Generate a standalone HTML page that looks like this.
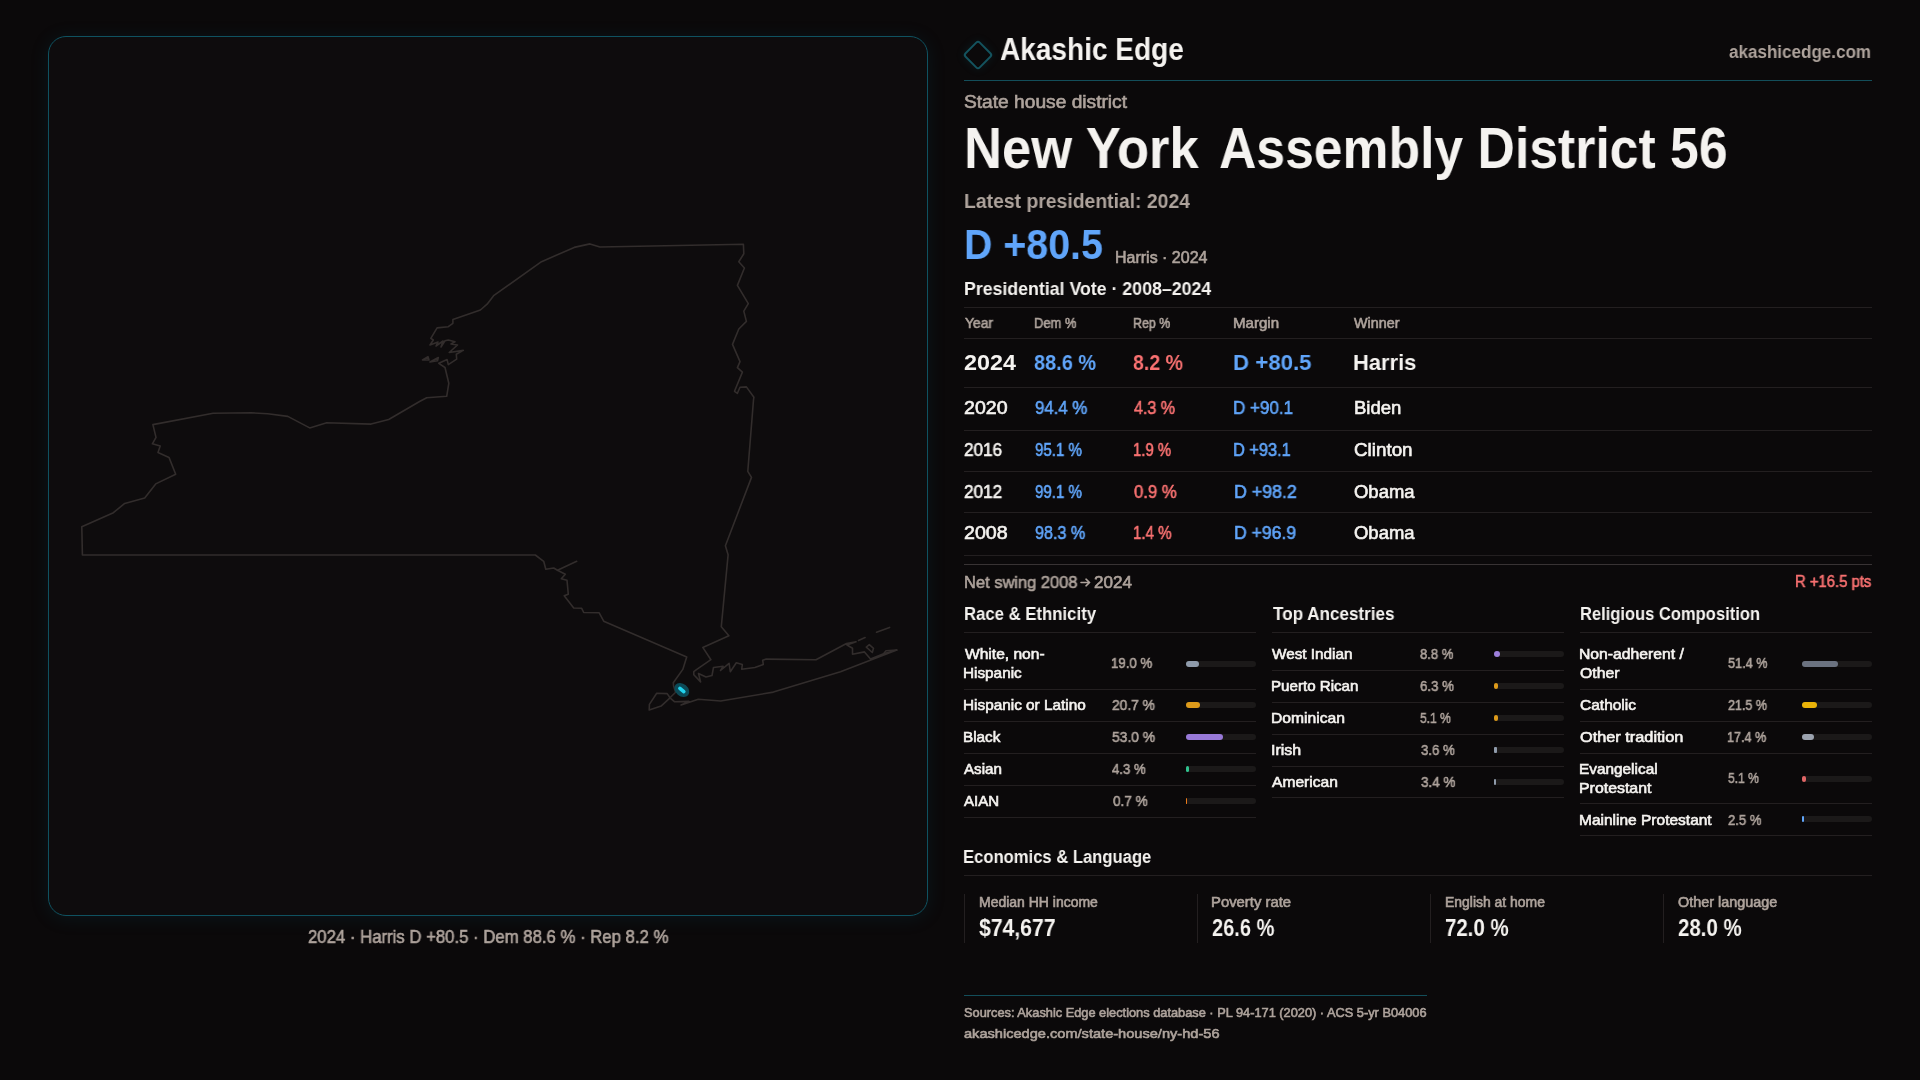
<!DOCTYPE html>
<html><head><meta charset="utf-8"><style>
html,body{margin:0;padding:0;}
body{width:1920px;height:1080px;background:#0b090a;position:relative;overflow:hidden;font-family:"Liberation Sans",sans-serif;}
.t{position:absolute;white-space:nowrap;line-height:0;transform-origin:0 0;will-change:transform;}
.r{position:absolute;}
.panel{position:absolute;left:48px;top:36px;width:878px;height:878px;border:1px solid #0f5260;border-radius:18px;background:#0e0c0d;box-shadow:0 2px 18px 1px rgba(16,100,120,0.13);}
.logo{position:absolute;left:967px;top:44px;width:18px;height:18px;border:2px solid #14535e;border-radius:3.5px;transform:rotate(45deg);box-shadow:0 0 10px rgba(20,120,140,0.15);}
svg{position:absolute;left:0;top:0;}
</style></head><body>
<div class="panel"></div>
<svg width="1920" height="1080" viewBox="0 0 1920 1080">
<g fill="none" stroke="#322d2c" stroke-width="1.6" stroke-linejoin="round" stroke-linecap="round">
<path d="M82.4,555 L81.8,526.7 L113.4,512.7 L124.7,503.4 L144.7,497.9 L155.7,483.9 L175.7,474.2 L169,457.4 L158,452.5 L160.2,446.1 L152.4,443.8 L156,437.4 L152.9,424.6 L213.1,413.2 L251.4,412.8 L267.8,413.7 L287.8,416.4 L309.7,427.9 L326.7,422.8 L371.1,424.1 L388.7,419.5 L420,401.3 L426.7,397.8 L446.7,396.3 L448.8,383.3 L445,367.5 L438.8,363.3 L447.1,359.6 L448.3,364.6 L456.7,359.2 L456.3,354.2 L463.3,350.4 L449.2,352.5 L457.5,345 L451,344 L455,341.7 L448.3,340 L445,340.8 L441,347 L443,341 L436,346 L438,342 L430,345 L433.3,340 L430.8,338.3 L437.1,327.9 L448.3,326.7 L452.9,323.3 L452.9,319.6 L480.4,310 L487.1,304.2 L494,295.3 L541.5,261.7 L574.2,247.4 L590,243.9 L599.9,247 L743.4,244.3 L743.8,253.8 L738.8,261.7 L744.4,268 L737.4,285.4 L748.3,303.6 L743.8,311.1 L746.4,321.4 L738.8,329 L732.5,344.4 L740,361.6 L737.4,367.6 L742.4,372.1 L734.5,391.3 L737.4,393.3 L740,387.3 L746.4,386.9 L753.9,397.2 L753.5,400 L747.8,471.3 L751.5,477.4 L725.4,545.7 L728.1,554.8 L721.3,626.7 L728.9,635.8 L702.8,647.4 L710.9,659.7 L696.8,669.3 L693.8,671.7 L693.8,674.7 L700.6,681.9 L698.5,673.5 L706,677 L712,675.5 L713.5,667.5 L723.1,666.3 L720.5,670.5 L729.1,663.3 L730.3,671.7 L736.3,662.7 L742.3,664.5 L741.7,669.3 L754.9,667.5 L763.3,664.5 L762.7,660.3 L766.2,659.1 L816,659.7 L846.5,643.5 L856.1,641.7 L847,645 L852.5,648.3 L852.5,654.3 L864.5,651.9 L870.5,659.1 L883.6,653.7 L896.8,650.1 L840.5,671.7 L773.4,692.1 L720.7,701 L698.3,699.2 L681.1,705 L688.9,701.4 L674.4,701.7 L670,697.8 L675.6,692.2 L673.6,686.1 L673.3,682.8 L682.8,669.4 L686.7,657 L603.7,621.2 L599.2,612.8 L583.7,612.5 L581.7,608.3 L573.7,608 L564.2,595.8 L568.3,594.2 L567,580.3 L561.3,578.7 L565.3,574.2 L557.5,570.3 L553.7,568 L545.8,569.2 L543.7,561.3 L535.3,555 Z"/>
<path d="M557.5,570.3 L576.7,561.3"/>
<path d="M883.6,653.7 L886,650.7 L896.8,650.1"/>
<path d="M656.7,693.3 L667.2,693.6 L670,697.8 L661.1,706.1 L649.2,710 L649.4,704.4 Z"/>
<path d="M866.3,647.1 L869.3,644.7 L873.5,648.3 L872.3,652.5 Z"/>
<path d="M876.5,632.2 L889.6,627.4"/>
<path d="M858.5,640.5 L865.1,637.6"/>
<path d="M422.5,360 L428,356.7 L429,360 Z"/>
<path d="M430,362 L438.3,357.5 L437.5,360.8 Z"/>
</g>
<ellipse cx="681.8" cy="690" rx="8.2" ry="6.2" transform="rotate(40 681.8 690)" fill="#0c4a57"/>
<line x1="679.9" y1="688.4" x2="683.8" y2="691.7" stroke="#22d3ee" stroke-width="3.6" stroke-linecap="round"/>
</svg>

<div class="logo"></div>
<div class="t" style="left:1000.47px;top:49.67px;font-size:30.96px;font-weight:bold;color:#f5f3f0;transform:scaleX(0.90592);">Akashic Edge</div>
<div class="t" style="left:1729.07px;top:51.53px;font-size:17.50px;font-weight:bold;color:#aea39c;transform:scaleX(0.97349);">akashicedge.com</div>
<div class="r" style="left:964px;top:80px;width:908px;height:1px;background:#134e5a;"></div>
<div class="t" style="left:963.55px;top:101.65px;font-size:17.44px;font-weight:normal;color:#aea39c;-webkit-text-stroke:0.6px #aea39c;transform:scaleX(1.09919);">State house district</div>
<div class="t" style="left:964.35px;top:148.44px;font-size:57.85px;font-weight:bold;color:#f5f3f0;transform:scaleX(0.90901);">New York</div>
<div class="t" style="left:1219.33px;top:148.44px;font-size:57.85px;font-weight:bold;color:#f5f3f0;transform:scaleX(0.89354);">Assembly District 56</div>
<div class="t" style="left:963.79px;top:201.49px;font-size:20.79px;font-weight:bold;color:#aea39c;transform:scaleX(0.93188);">Latest presidential: 2024</div>
<div class="t" style="left:964.18px;top:245.34px;font-size:42.01px;font-weight:bold;color:#60a5fa;transform:scaleX(0.93630);">D +80.5</div>
<div class="t" style="left:1115.41px;top:258.31px;font-size:15.84px;font-weight:normal;color:#aea39c;-webkit-text-stroke:0.6px #aea39c;transform:scaleX(1.01026);">Harris · 2024</div>
<div class="t" style="left:964.14px;top:288.55px;font-size:18.02px;font-weight:bold;color:#f5f3f0;transform:scaleX(0.98472);">Presidential Vote · 2008–2024</div>
<div class="r" style="left:964px;top:307px;width:908px;height:1px;background:#231f20;"></div>
<div class="t" style="left:964.62px;top:322.51px;font-size:14.10px;font-weight:normal;color:#aea39c;-webkit-text-stroke:0.6px #aea39c;transform:scaleX(0.98442);">Year</div>
<div class="t" style="left:1033.88px;top:322.51px;font-size:14.10px;font-weight:normal;color:#aea39c;-webkit-text-stroke:0.6px #aea39c;transform:scaleX(0.91758);">Dem %</div>
<div class="t" style="left:1133.27px;top:322.51px;font-size:14.10px;font-weight:normal;color:#aea39c;-webkit-text-stroke:0.6px #aea39c;transform:scaleX(0.87965);">Rep %</div>
<div class="t" style="left:1233.41px;top:322.51px;font-size:14.10px;font-weight:normal;color:#aea39c;-webkit-text-stroke:0.6px #aea39c;transform:scaleX(1.06994);">Margin</div>
<div class="t" style="left:1354.36px;top:322.51px;font-size:14.10px;font-weight:normal;color:#aea39c;-webkit-text-stroke:0.6px #aea39c;transform:scaleX(1.01888);">Winner</div>
<div class="r" style="left:964px;top:338px;width:908px;height:1px;background:#231f20;"></div>
<div class="t" style="left:963.71px;top:361.64px;font-size:22.97px;font-weight:bold;color:#f5f3f0;transform:scaleX(1.01631);">2024</div>
<div class="t" style="left:1034.14px;top:361.64px;font-size:22.97px;font-weight:bold;color:#60a5fa;transform:scaleX(0.86841);">88.6 %</div>
<div class="t" style="left:1133.43px;top:361.64px;font-size:22.97px;font-weight:bold;color:#f87171;transform:scaleX(0.85078);">8.2 %</div>
<div class="t" style="left:1233.48px;top:361.64px;font-size:22.97px;font-weight:bold;color:#60a5fa;transform:scaleX(0.96818);">D +80.5</div>
<div class="t" style="left:1353.06px;top:361.64px;font-size:22.97px;font-weight:bold;color:#f5f3f0;transform:scaleX(0.95532);">Harris</div>
<div class="r" style="left:964px;top:387px;width:908px;height:1px;background:#231f20;"></div>
<div class="t" style="left:964.08px;top:408.45px;font-size:18.02px;font-weight:normal;color:#f5f3f0;-webkit-text-stroke:0.6px #f5f3f0;transform:scaleX(1.08694);">2020</div>
<div class="t" style="left:1034.51px;top:408.45px;font-size:18.02px;font-weight:normal;color:#60a5fa;-webkit-text-stroke:0.6px #60a5fa;transform:scaleX(0.93259);">94.4 %</div>
<div class="t" style="left:1134.11px;top:408.45px;font-size:18.02px;font-weight:normal;color:#f87171;-webkit-text-stroke:0.6px #f87171;transform:scaleX(0.89138);">4.3 %</div>
<div class="t" style="left:1233.18px;top:408.45px;font-size:18.02px;font-weight:normal;color:#60a5fa;-webkit-text-stroke:0.6px #60a5fa;transform:scaleX(0.94557);">D +90.1</div>
<div class="t" style="left:1353.67px;top:408.45px;font-size:18.02px;font-weight:normal;color:#f5f3f0;-webkit-text-stroke:0.6px #f5f3f0;transform:scaleX(1.02914);">Biden</div>
<div class="r" style="left:964px;top:430px;width:908px;height:1px;background:#231f20;"></div>
<div class="t" style="left:964.25px;top:449.65px;font-size:18.02px;font-weight:normal;color:#f5f3f0;-webkit-text-stroke:0.6px #f5f3f0;transform:scaleX(0.95111);">2016</div>
<div class="t" style="left:1034.58px;top:449.65px;font-size:18.02px;font-weight:normal;color:#60a5fa;-webkit-text-stroke:0.6px #60a5fa;transform:scaleX(0.83732);">95.1 %</div>
<div class="t" style="left:1133.22px;top:449.65px;font-size:18.02px;font-weight:normal;color:#f87171;-webkit-text-stroke:0.6px #f87171;transform:scaleX(0.82766);">1.9 %</div>
<div class="t" style="left:1233.19px;top:449.65px;font-size:18.02px;font-weight:normal;color:#60a5fa;-webkit-text-stroke:0.6px #60a5fa;transform:scaleX(0.90844);">D +93.1</div>
<div class="t" style="left:1353.82px;top:449.65px;font-size:18.02px;font-weight:normal;color:#f5f3f0;-webkit-text-stroke:0.6px #f5f3f0;transform:scaleX(1.04453);">Clinton</div>
<div class="r" style="left:964px;top:471px;width:908px;height:1px;background:#231f20;"></div>
<div class="t" style="left:964.25px;top:491.65px;font-size:18.02px;font-weight:normal;color:#f5f3f0;-webkit-text-stroke:0.6px #f5f3f0;transform:scaleX(0.95339);">2012</div>
<div class="t" style="left:1034.58px;top:491.65px;font-size:18.02px;font-weight:normal;color:#60a5fa;-webkit-text-stroke:0.6px #60a5fa;transform:scaleX(0.83732);">99.1 %</div>
<div class="t" style="left:1134.36px;top:491.65px;font-size:18.02px;font-weight:normal;color:#f87171;-webkit-text-stroke:0.6px #f87171;transform:scaleX(0.92720);">0.9 %</div>
<div class="t" style="left:1233.66px;top:491.65px;font-size:18.02px;font-weight:normal;color:#60a5fa;-webkit-text-stroke:0.6px #60a5fa;transform:scaleX(0.98864);">D +98.2</div>
<div class="t" style="left:1354.09px;top:491.65px;font-size:18.02px;font-weight:normal;color:#f5f3f0;-webkit-text-stroke:0.6px #f5f3f0;transform:scaleX(1.02578);">Obama</div>
<div class="r" style="left:964px;top:512px;width:908px;height:1px;background:#231f20;"></div>
<div class="t" style="left:964.06px;top:533.45px;font-size:18.02px;font-weight:normal;color:#f5f3f0;-webkit-text-stroke:0.6px #f5f3f0;transform:scaleX(1.09009);">2008</div>
<div class="t" style="left:1034.53px;top:533.45px;font-size:18.02px;font-weight:normal;color:#60a5fa;-webkit-text-stroke:0.6px #60a5fa;transform:scaleX(0.89662);">98.3 %</div>
<div class="t" style="left:1133.21px;top:533.45px;font-size:18.02px;font-weight:normal;color:#f87171;-webkit-text-stroke:0.6px #f87171;transform:scaleX(0.83751);">1.4 %</div>
<div class="t" style="left:1233.66px;top:533.45px;font-size:18.02px;font-weight:normal;color:#60a5fa;-webkit-text-stroke:0.6px #60a5fa;transform:scaleX(0.97779);">D +96.9</div>
<div class="t" style="left:1354.09px;top:533.45px;font-size:18.02px;font-weight:normal;color:#f5f3f0;-webkit-text-stroke:0.6px #f5f3f0;transform:scaleX(1.02578);">Obama</div>
<div class="r" style="left:964px;top:555px;width:908px;height:1px;background:#231f20;"></div>
<div class="r" style="left:964px;top:564px;width:908px;height:1px;background:#383334;"></div>
<div class="t" style="left:963.53px;top:582.86px;font-size:16.57px;font-weight:normal;color:#aea39c;-webkit-text-stroke:0.6px #aea39c;transform:scaleX(0.99392);">Net swing 2008</div>
<div class="t" style="left:1093.72px;top:582.86px;font-size:16.57px;font-weight:normal;color:#aea39c;-webkit-text-stroke:0.6px #aea39c;transform:scaleX(1.03103);">2024</div>
<svg style="position:absolute;left:1080px;top:578px" width="12" height="9" viewBox="0 0 12 9"><path d="M1,4.5 H9.6 M6,1.2 L9.6,4.5 L6,7.8" fill="none" stroke="#aea39c" stroke-width="1.6" stroke-linecap="round" stroke-linejoin="round"/></svg>
<div class="t" style="left:1794.63px;top:582.16px;font-size:15.70px;font-weight:normal;color:#f87171;-webkit-text-stroke:0.6px #f87171;transform:scaleX(0.94600);">R +16.5 pts</div>
<div class="t" style="left:963.55px;top:613.65px;font-size:18.02px;font-weight:bold;color:#f5f3f0;transform:scaleX(0.92858);">Race & Ethnicity</div>
<div class="r" style="left:964px;top:632px;width:292px;height:1px;background:#231f20;"></div>
<div class="t" style="left:964.82px;top:654.26px;font-size:14.54px;font-weight:normal;color:#f5f3f0;-webkit-text-stroke:0.6px #f5f3f0;transform:scaleX(1.07142);">White, non-</div>
<div class="t" style="left:963.35px;top:673.16px;font-size:14.54px;font-weight:normal;color:#f5f3f0;-webkit-text-stroke:0.6px #f5f3f0;transform:scaleX(1.05345);">Hispanic</div>
<div class="t" style="left:1111.42px;top:663.21px;font-size:14.97px;font-weight:normal;color:#aea39c;-webkit-text-stroke:0.6px #aea39c;transform:scaleX(0.88566);">19.0 %</div>
<div class="r" style="left:1186px;top:661px;width:70px;height:6px;background:#1b1919;border-radius:3px;"></div>
<div class="r" style="left:1186px;top:661px;width:13.3px;height:6px;background:#8f9bab;border-radius:3px;"></div>
<div class="r" style="left:964px;top:689px;width:292px;height:1px;background:#231f20;"></div>
<div class="t" style="left:963.36px;top:704.76px;font-size:14.54px;font-weight:normal;color:#f5f3f0;-webkit-text-stroke:0.6px #f5f3f0;transform:scaleX(1.05525);">Hispanic or Latino</div>
<div class="t" style="left:1112.38px;top:704.91px;font-size:14.97px;font-weight:normal;color:#aea39c;-webkit-text-stroke:0.6px #aea39c;transform:scaleX(0.92036);">20.7 %</div>
<div class="r" style="left:1186px;top:702px;width:70px;height:6px;background:#1b1919;border-radius:3px;"></div>
<div class="r" style="left:1186px;top:702px;width:14.49px;height:6px;background:#dd9a1a;border-radius:3px;"></div>
<div class="r" style="left:964px;top:721px;width:292px;height:1px;background:#231f20;"></div>
<div class="t" style="left:963.44px;top:737.06px;font-size:14.54px;font-weight:normal;color:#f5f3f0;-webkit-text-stroke:0.6px #f5f3f0;transform:scaleX(1.04987);">Black</div>
<div class="t" style="left:1112.26px;top:736.91px;font-size:14.97px;font-weight:normal;color:#aea39c;-webkit-text-stroke:0.6px #aea39c;transform:scaleX(0.92569);">53.0 %</div>
<div class="r" style="left:1186px;top:734px;width:70px;height:6px;background:#1b1919;border-radius:3px;"></div>
<div class="r" style="left:1186px;top:734px;width:37.1px;height:6px;background:#9879d8;border-radius:3px;"></div>
<div class="r" style="left:964px;top:753px;width:292px;height:1px;background:#231f20;"></div>
<div class="t" style="left:964.35px;top:769.06px;font-size:14.54px;font-weight:normal;color:#f5f3f0;-webkit-text-stroke:0.6px #f5f3f0;transform:scaleX(1.04349);">Asian</div>
<div class="t" style="left:1112.30px;top:768.91px;font-size:14.97px;font-weight:normal;color:#aea39c;-webkit-text-stroke:0.6px #aea39c;transform:scaleX(0.87899);">4.3 %</div>
<div class="r" style="left:1186px;top:766px;width:70px;height:6px;background:#1b1919;border-radius:3px;"></div>
<div class="r" style="left:1186px;top:766px;width:3.01px;height:6px;background:#30c28e;border-radius:3px;"></div>
<div class="r" style="left:964px;top:785px;width:292px;height:1px;background:#231f20;"></div>
<div class="t" style="left:964.34px;top:801.16px;font-size:14.54px;font-weight:normal;color:#f5f3f0;-webkit-text-stroke:0.6px #f5f3f0;transform:scaleX(1.03546);">AIAN</div>
<div class="t" style="left:1112.55px;top:801.01px;font-size:14.97px;font-weight:normal;color:#aea39c;-webkit-text-stroke:0.6px #aea39c;transform:scaleX(0.90559);">0.7 %</div>
<div class="r" style="left:1186px;top:798px;width:70px;height:6px;background:#1b1919;border-radius:3px;"></div>
<div class="r" style="left:1186px;top:798px;width:1.2px;height:6px;background:#ea7a1a;border-radius:1px;"></div>
<div class="r" style="left:964px;top:817px;width:292px;height:1px;background:#231f20;"></div>
<div class="t" style="left:1272.54px;top:613.65px;font-size:18.02px;font-weight:bold;color:#f5f3f0;transform:scaleX(0.94888);">Top Ancestries</div>
<div class="r" style="left:1272px;top:632px;width:292px;height:1px;background:#231f20;"></div>
<div class="t" style="left:1272.33px;top:654.16px;font-size:14.54px;font-weight:normal;color:#f5f3f0;-webkit-text-stroke:0.6px #f5f3f0;transform:scaleX(1.05154);">West Indian</div>
<div class="t" style="left:1420.45px;top:654.01px;font-size:14.97px;font-weight:normal;color:#aea39c;-webkit-text-stroke:0.6px #aea39c;transform:scaleX(0.87204);">8.8 %</div>
<div class="r" style="left:1494px;top:651px;width:70px;height:6px;background:#1b1919;border-radius:3px;"></div>
<div class="r" style="left:1494px;top:651px;width:6.16px;height:6px;background:#9d7fdc;border-radius:3px;"></div>
<div class="r" style="left:1272px;top:670px;width:292px;height:1px;background:#231f20;"></div>
<div class="t" style="left:1271.46px;top:686.26px;font-size:14.54px;font-weight:normal;color:#f5f3f0;-webkit-text-stroke:0.6px #f5f3f0;transform:scaleX(1.04075);">Puerto Rican</div>
<div class="t" style="left:1420.29px;top:686.11px;font-size:14.97px;font-weight:normal;color:#aea39c;-webkit-text-stroke:0.6px #aea39c;transform:scaleX(0.88517);">6.3 %</div>
<div class="r" style="left:1494px;top:683px;width:70px;height:6px;background:#1b1919;border-radius:3px;"></div>
<div class="r" style="left:1494px;top:683px;width:4.41px;height:6px;background:#dd9a1a;border-radius:3px;"></div>
<div class="r" style="left:1272px;top:702px;width:292px;height:1px;background:#231f20;"></div>
<div class="t" style="left:1271.34px;top:718.36px;font-size:14.54px;font-weight:normal;color:#f5f3f0;-webkit-text-stroke:0.6px #f5f3f0;transform:scaleX(1.07804);">Dominican</div>
<div class="t" style="left:1420.31px;top:718.21px;font-size:14.97px;font-weight:normal;color:#aea39c;-webkit-text-stroke:0.6px #aea39c;transform:scaleX(0.80355);">5.1 %</div>
<div class="r" style="left:1494px;top:715px;width:70px;height:6px;background:#1b1919;border-radius:3px;"></div>
<div class="r" style="left:1494px;top:715px;width:3.57px;height:6px;background:#dd9a1a;border-radius:3px;"></div>
<div class="r" style="left:1272px;top:734px;width:292px;height:1px;background:#231f20;"></div>
<div class="t" style="left:1271.21px;top:750.26px;font-size:14.54px;font-weight:normal;color:#f5f3f0;-webkit-text-stroke:0.6px #f5f3f0;transform:scaleX(1.09756);">Irish</div>
<div class="t" style="left:1420.56px;top:750.11px;font-size:14.97px;font-weight:normal;color:#aea39c;-webkit-text-stroke:0.6px #aea39c;transform:scaleX(0.88148);">3.6 %</div>
<div class="r" style="left:1494px;top:747px;width:70px;height:6px;background:#1b1919;border-radius:3px;"></div>
<div class="r" style="left:1494px;top:747px;width:2.52px;height:6px;background:#8f9bab;border-radius:1px;"></div>
<div class="r" style="left:1272px;top:766px;width:292px;height:1px;background:#231f20;"></div>
<div class="t" style="left:1272.35px;top:782.36px;font-size:14.54px;font-weight:normal;color:#f5f3f0;-webkit-text-stroke:0.6px #f5f3f0;transform:scaleX(1.07272);">American</div>
<div class="t" style="left:1420.52px;top:782.21px;font-size:14.97px;font-weight:normal;color:#aea39c;-webkit-text-stroke:0.6px #aea39c;transform:scaleX(0.89868);">3.4 %</div>
<div class="r" style="left:1494px;top:779px;width:70px;height:6px;background:#1b1919;border-radius:3px;"></div>
<div class="r" style="left:1494px;top:779px;width:2.38px;height:6px;background:#8f9bab;border-radius:1px;"></div>
<div class="r" style="left:1272px;top:797px;width:292px;height:1px;background:#231f20;"></div>
<div class="t" style="left:1579.57px;top:613.65px;font-size:18.02px;font-weight:bold;color:#f5f3f0;transform:scaleX(0.91729);">Religious Composition</div>
<div class="r" style="left:1580px;top:632px;width:292px;height:1px;background:#231f20;"></div>
<div class="t" style="left:1579.35px;top:654.46px;font-size:14.54px;font-weight:normal;color:#f5f3f0;-webkit-text-stroke:0.6px #f5f3f0;transform:scaleX(1.08238);">Non-adherent /</div>
<div class="t" style="left:1580.37px;top:673.06px;font-size:14.54px;font-weight:normal;color:#f5f3f0;-webkit-text-stroke:0.6px #f5f3f0;transform:scaleX(1.08609);">Other</div>
<div class="t" style="left:1728.30px;top:663.21px;font-size:14.97px;font-weight:normal;color:#aea39c;-webkit-text-stroke:0.6px #aea39c;transform:scaleX(0.84941);">51.4 %</div>
<div class="r" style="left:1802px;top:661px;width:70px;height:6px;background:#1b1919;border-radius:3px;"></div>
<div class="r" style="left:1802px;top:661px;width:35.98px;height:6px;background:#6b7280;border-radius:3px;"></div>
<div class="r" style="left:1580px;top:689px;width:292px;height:1px;background:#231f20;"></div>
<div class="t" style="left:1580.28px;top:705.26px;font-size:14.54px;font-weight:normal;color:#f5f3f0;-webkit-text-stroke:0.6px #f5f3f0;transform:scaleX(1.06689);">Catholic</div>
<div class="t" style="left:1728.42px;top:705.11px;font-size:14.97px;font-weight:normal;color:#aea39c;-webkit-text-stroke:0.6px #aea39c;transform:scaleX(0.83716);">21.5 %</div>
<div class="r" style="left:1802px;top:702px;width:70px;height:6px;background:#1b1919;border-radius:3px;"></div>
<div class="r" style="left:1802px;top:702px;width:15.05px;height:6px;background:#eab308;border-radius:3px;"></div>
<div class="r" style="left:1580px;top:721px;width:292px;height:1px;background:#231f20;"></div>
<div class="t" style="left:1580.33px;top:737.36px;font-size:14.54px;font-weight:normal;color:#f5f3f0;-webkit-text-stroke:0.6px #f5f3f0;transform:scaleX(1.12192);">Other tradition</div>
<div class="t" style="left:1727.42px;top:737.21px;font-size:14.97px;font-weight:normal;color:#aea39c;-webkit-text-stroke:0.6px #aea39c;transform:scaleX(0.84239);">17.4 %</div>
<div class="r" style="left:1802px;top:734px;width:70px;height:6px;background:#1b1919;border-radius:3px;"></div>
<div class="r" style="left:1802px;top:734px;width:12.18px;height:6px;background:#9ca3af;border-radius:3px;"></div>
<div class="r" style="left:1580px;top:753px;width:292px;height:1px;background:#231f20;"></div>
<div class="t" style="left:1579.35px;top:769.16px;font-size:14.54px;font-weight:normal;color:#f5f3f0;-webkit-text-stroke:0.6px #f5f3f0;transform:scaleX(1.05755);">Evangelical</div>
<div class="t" style="left:1579.35px;top:787.86px;font-size:14.54px;font-weight:normal;color:#f5f3f0;-webkit-text-stroke:0.6px #f5f3f0;transform:scaleX(1.09339);">Protestant</div>
<div class="t" style="left:1728.30px;top:778.21px;font-size:14.97px;font-weight:normal;color:#aea39c;-webkit-text-stroke:0.6px #aea39c;transform:scaleX(0.80557);">5.1 %</div>
<div class="r" style="left:1802px;top:776px;width:70px;height:6px;background:#1b1919;border-radius:3px;"></div>
<div class="r" style="left:1802px;top:776px;width:3.57px;height:6px;background:#e06666;border-radius:3px;"></div>
<div class="r" style="left:1580px;top:803px;width:292px;height:1px;background:#231f20;"></div>
<div class="t" style="left:1579.36px;top:819.66px;font-size:14.54px;font-weight:normal;color:#f5f3f0;-webkit-text-stroke:0.6px #f5f3f0;transform:scaleX(1.06664);">Mainline Protestant</div>
<div class="t" style="left:1728.42px;top:819.51px;font-size:14.97px;font-weight:normal;color:#aea39c;-webkit-text-stroke:0.6px #aea39c;transform:scaleX(0.87413);">2.5 %</div>
<div class="r" style="left:1802px;top:816px;width:70px;height:6px;background:#1b1919;border-radius:3px;"></div>
<div class="r" style="left:1802px;top:816px;width:1.75px;height:6px;background:#60a5fa;border-radius:1px;"></div>
<div class="r" style="left:1580px;top:835px;width:292px;height:1px;background:#231f20;"></div>
<div class="t" style="left:963.38px;top:856.70px;font-size:18.75px;font-weight:bold;color:#f5f3f0;transform:scaleX(0.88595);">Economics & Language</div>
<div class="r" style="left:964px;top:875px;width:908px;height:1px;background:#231f20;"></div>
<div class="r" style="left:964px;top:894px;width:1px;height:49px;background:#231f20;"></div>
<div class="t" style="left:978.55px;top:902.41px;font-size:13.81px;font-weight:normal;color:#aea39c;-webkit-text-stroke:0.6px #aea39c;transform:scaleX(1.01277);">Median HH income</div>
<div class="t" style="left:979.35px;top:928.09px;font-size:23.69px;font-weight:bold;color:#f5f3f0;transform:scaleX(0.89426);">$74,677</div>
<div class="r" style="left:1197px;top:894px;width:1px;height:49px;background:#231f20;"></div>
<div class="t" style="left:1211.45px;top:902.41px;font-size:13.81px;font-weight:normal;color:#aea39c;-webkit-text-stroke:0.6px #aea39c;transform:scaleX(1.07626);">Poverty rate</div>
<div class="t" style="left:1211.82px;top:928.09px;font-size:23.69px;font-weight:bold;color:#f5f3f0;transform:scaleX(0.84486);">26.6 %</div>
<div class="r" style="left:1430px;top:894px;width:1px;height:49px;background:#231f20;"></div>
<div class="t" style="left:1444.56px;top:902.41px;font-size:13.81px;font-weight:normal;color:#aea39c;-webkit-text-stroke:0.6px #aea39c;transform:scaleX(1.01058);">English at home</div>
<div class="t" style="left:1444.75px;top:928.09px;font-size:23.69px;font-weight:bold;color:#f5f3f0;transform:scaleX(0.86175);">72.0 %</div>
<div class="r" style="left:1663px;top:894px;width:1px;height:49px;background:#231f20;"></div>
<div class="t" style="left:1678.16px;top:902.41px;font-size:13.81px;font-weight:normal;color:#aea39c;-webkit-text-stroke:0.6px #aea39c;transform:scaleX(1.04252);">Other language</div>
<div class="t" style="left:1677.82px;top:928.09px;font-size:23.69px;font-weight:bold;color:#f5f3f0;transform:scaleX(0.86267);">28.0 %</div>
<div class="r" style="left:964px;top:995px;width:463px;height:1px;background:#134e5a;"></div>
<div class="t" style="left:964.21px;top:1013.49px;font-size:12.72px;font-weight:normal;color:#aea39c;-webkit-text-stroke:0.6px #aea39c;transform:scaleX(1.00592);">Sources: Akashic Edge elections database · PL 94-171 (2020) · ACS 5-yr B04006</div>
<div class="t" style="left:964.34px;top:1033.99px;font-size:13.00px;font-weight:normal;color:#aea39c;-webkit-text-stroke:0.6px #aea39c;transform:scaleX(1.12247);">akashicedge.com/state-house/ny-hd-56</div>
<div class="t" style="left:307.56px;top:936.60px;font-size:18.17px;font-weight:normal;color:#aea39c;-webkit-text-stroke:0.6px #aea39c;transform:scaleX(0.92161);">2024 · Harris D +80.5 · Dem 88.6 % · Rep 8.2 %</div>
</body></html>
